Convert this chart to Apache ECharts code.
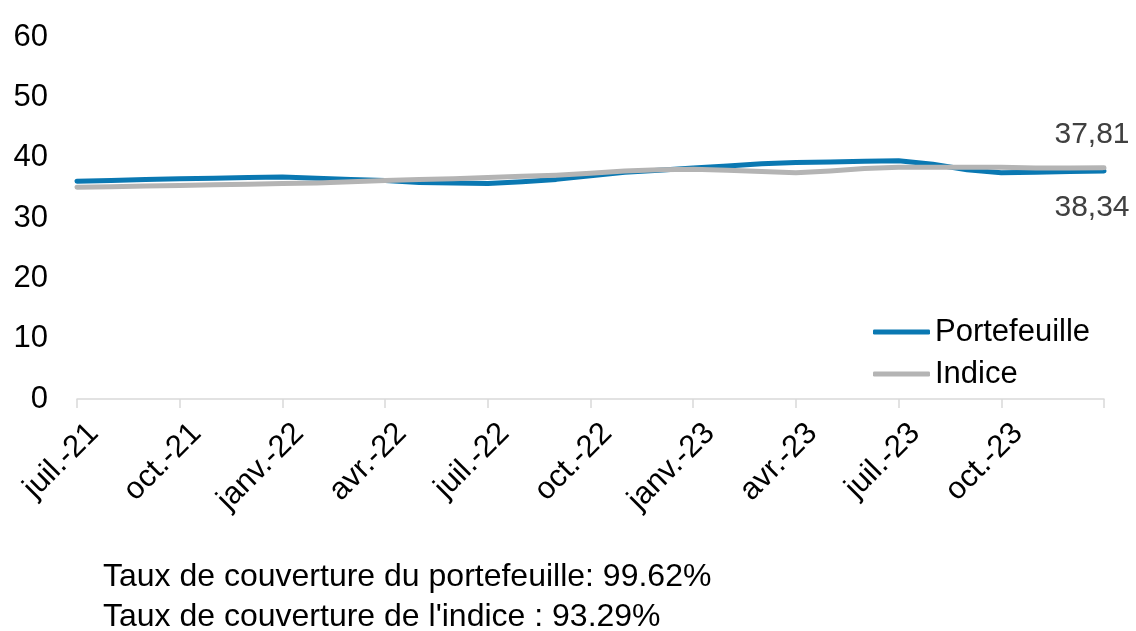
<!DOCTYPE html>
<html>
<head>
<meta charset="utf-8">
<script src="https://cdn.jsdelivr.net/npm/echarts@6/dist/echarts.min.js"></script>
<style>
html, body { margin: 0; padding: 0; background: #fff; }
#chart { width: 1136px; height: 631px; }
</style>
</head>
<body>
<div id="chart"></div>
<script>
// monthly points, labels shown every quarter
const months = ['juil.-21', 'août-21', 'sept.-21', 'oct.-21', 'nov.-21', 'déc.-21',
  'janv.-22', 'févr.-22', 'mars-22', 'avr.-22', 'mai-22', 'juin-22',
  'juil.-22', 'août-22', 'sept.-22', 'oct.-22', 'nov.-22', 'déc.-22',
  'janv.-23', 'févr.-23', 'mars-23', 'avr.-23', 'mai-23', 'juin-23',
  'juil.-23', 'août-23', 'sept.-23', 'oct.-23', 'nov.-23', 'déc.-23', 'janv.-24'];

const portefeuille = [36.1, 36.2, 36.4, 36.5, 36.6, 36.7, 36.8, 36.6, 36.4, 36.2,
  35.9, 35.8, 35.7, 36.0, 36.4, 37.0, 37.6, 37.9, 38.3, 38.6,
  39.0, 39.2, 39.3, 39.4, 39.5, 38.9, 38.0, 37.5, 37.6, 37.7, 37.81];

const indice = [35.1, 35.2, 35.3, 35.4, 35.5, 35.6, 35.7, 35.8, 36.0, 36.2,
  36.4, 36.5, 36.7, 36.9, 37.1, 37.4, 37.8, 38.0, 38.1, 37.9,
  37.7, 37.5, 37.8, 38.2, 38.4, 38.4, 38.4, 38.4, 38.3, 38.3, 38.34];

const coverageNotes = ['Taux de couverture du portefeuille: 99.62%', "Taux de couverture de l'indice : 93.29%"];

const FONT = '"Liberation Sans", Arial, sans-serif';
const last = months.length - 1;

// only the last point gets a (tiny) symbol so its value label can show
function withEndLabel(arr, color, position, distance) {
  return arr.map(function (v, i) {
    if (i !== last) return v;
    return {
      value: v,
      symbol: 'circle',
      symbolSize: 2,
      itemStyle: { color: color },
      label: {
        show: true,
        position: position,
        distance: distance,
        offset: [-12, 0],
        fontSize: 30,
        fontFamily: FONT,
        color: '#404040',
        formatter: function (p) { return p.value.toFixed(2).replace('.', ','); }
      }
    };
  });
}

const chart = echarts.init(document.getElementById('chart'));

const option = {
  animation: false,
  backgroundColor: '#fff',
  grid: { left: 77, right: 32, top: 37, bottom: 232, containLabel: false },
  legend: {
    orient: 'vertical',
    left: 868,
    top: 310,
    icon: 'roundRect',
    itemWidth: 57,
    itemHeight: 5,
    itemGap: 8,
    textStyle: { fontSize: 31, fontFamily: FONT, color: '#000', lineHeight: 34 },
    data: ['Portefeuille', 'Indice']
  },
  xAxis: {
    type: 'category',
    data: months,
    boundaryGap: false,
    axisLine: { lineStyle: { color: '#D9D9D9', width: 1.5 } },
    axisTick: {
      show: true,
      length: 9,
      interval: function (i) { return i % 3 === 0; },
      lineStyle: { color: '#D9D9D9', width: 1.5 }
    },
    axisLabel: {
      interval: function (i) { return i % 3 === 0 && i < last; },
      rotate: 45,
      fontSize: 31,
      fontFamily: FONT,
      color: '#000',
      margin: 13,
      verticalAlign: 'top',
      padding: [8, 0, 0, 0]
    },
    splitLine: { show: false }
  },
  yAxis: {
    type: 'value',
    min: 0,
    max: 60,
    interval: 10,
    axisLine: { show: false },
    axisTick: { show: false },
    splitLine: { show: false },
    axisLabel: { fontSize: 31, fontFamily: FONT, color: '#000', margin: 29 }
  },
  series: [
    {
      name: 'Portefeuille',
      type: 'line',
      data: withEndLabel(portefeuille, '#0A78B2', 'top', 20),
      symbol: 'none',
      color: '#0A78B2',
      itemStyle: { color: '#0A78B2' },
      lineStyle: { color: '#0A78B2', width: 5, cap: 'round', join: 'round' }
    },
    {
      name: 'Indice',
      type: 'line',
      data: withEndLabel(indice, '#B4B4B4', 'bottom', 24),
      symbol: 'none',
      color: '#B4B4B4',
      itemStyle: { color: '#B4B4B4' },
      lineStyle: { color: '#B4B4B4', width: 5, cap: 'round', join: 'round' }
    }
  ],
  graphic: coverageNotes.map(function (t, i) {
    return {
      type: 'text',
      left: 103,
      top: 561 + i * 40,
      style: { text: t, fontSize: 32, fontFamily: FONT, fill: '#000' }
    };
  })
};

chart.setOption(option);
</script>
</body>
</html>
